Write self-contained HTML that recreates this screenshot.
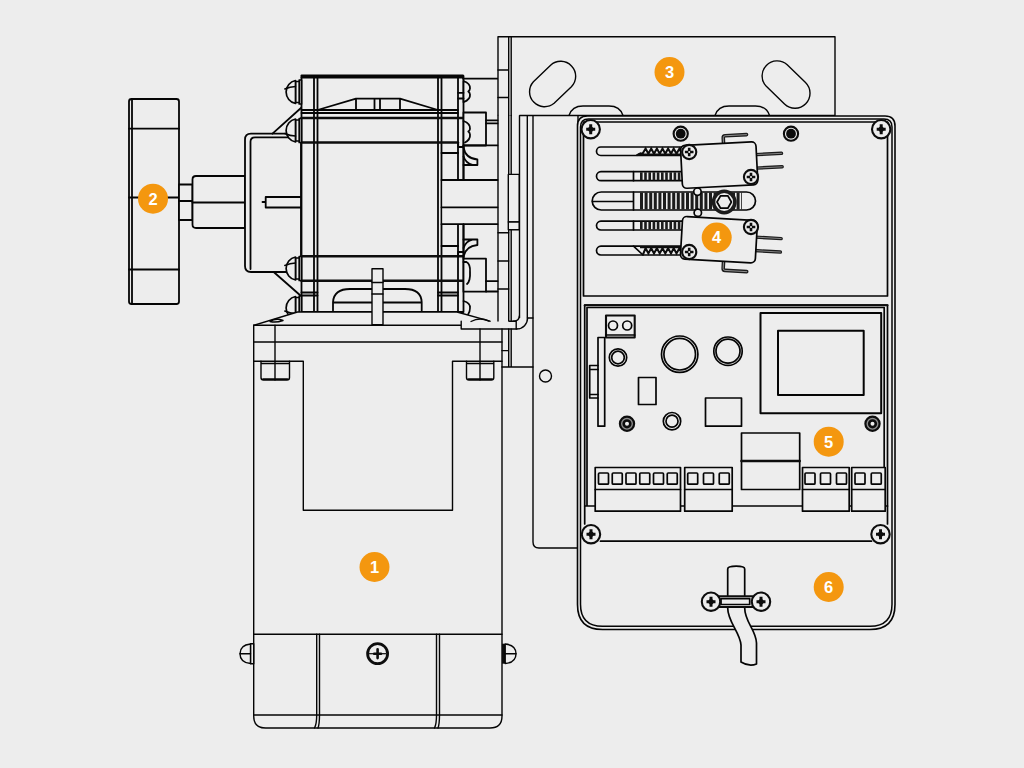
<!DOCTYPE html>
<html><head><meta charset="utf-8"><title>Diagram</title>
<style>
html,body{margin:0;padding:0;background:#ededed;}
body{width:1024px;height:768px;overflow:hidden;}
svg{display:block;}
.l{fill:none;stroke:#050505;stroke-width:1.4;stroke-linecap:round;stroke-linejoin:round;}
.t{fill:none;stroke:#0d0d0d;stroke-width:2.6;stroke-linecap:round;stroke-linejoin:round;}
.f{fill:#ededed;stroke:#050505;stroke-width:1.4;stroke-linejoin:round;}
.ft{fill:#ededed;stroke:#0d0d0d;stroke-width:2.1;stroke-linejoin:round;}
#gear .l,#gear .f,#wheel .l,#wheel .f{stroke-width:1.8;}
#box .l,#box .f{stroke-width:1.7;}
.k{fill:#0d0d0d;stroke:none;}
.b{fill:#f4970f;}
.n{font-family:"Liberation Sans",Arial,sans-serif;font-weight:bold;font-size:16.5px;fill:#fff;text-anchor:middle;}
</style></head><body>
<svg width="1024" height="768" viewBox="0 0 1024 768">
<rect width="1024" height="768" fill="#ededed"/>
<defs>
<g id="scr"><circle r="9.2" class="ft"/><path d="M-4.5,0H4.5M0,-5V5" stroke="#0d0d0d" stroke-width="3" fill="none"/><circle r="2.6" class="k"/></g>
<g id="scs"><circle r="7.1" class="ft"/><path d="M-4.3,0H4.3M0,-4.3V4.3" stroke="#0d0d0d" stroke-width="2.6" fill="none"/><circle r="1" fill="#ededed"/></g>
<g id="hole"><circle r="7.1" class="ft"/><circle r="4.9" class="k"/></g>
<g id="boltL"><path d="M15.2,0H17.5V24H15.2Z" class="f" style="stroke-width:1.7"/><path d="M11.5,1.500H15.200V22.500H11.5Z" class="f" style="stroke-width:1.7"/><path d="M11.5,0.500A11.500,11.700 0 0 0 11.500,23.500Z" class="f" style="stroke-width:1.7"/><path d="M0.800,9Q6,6.600 11.5,6.400" class="l" style="stroke-width:1.5"/></g>
<g id="boltM"><path d="M15.2,0H17.5V24H15.2Z" class="f" style="stroke-width:1.7"/><path d="M11.5,1.5H15.2V22.5H11.5Z" class="f" style="stroke-width:1.7"/><path d="M11.5,0.5A11.5,11.7 0 0 0 11.5,23.5Z" class="f" style="stroke-width:1.7"/><path d="M0.8,15Q6,17.400 11.5,17.600" class="l" style="stroke-width:1.5"/></g>
</defs>
<g id="wheel">
<rect x="129" y="99" width="50" height="205" rx="2.5" class="f"/>
<path d="M132,99.5V303.5M129,128.7H179M129,197.5H179M129,269.5H179" class="l"/>
<rect x="179" y="184.5" width="13.5" height="35.5" class="f"/>
<path d="M179,201H192.5" class="l"/>
<path d="M245,176H196Q192.5,176 192.5,179.5V224.5Q192.5,228 196,228H245Z" class="f"/>
<path d="M192.5,202.5H245" class="l"/>
<path d="M301,133.7H251Q245,133.7 245,139.7V266Q245,272 251,272H301Z" class="f"/>
<path d="M301,137.3H255Q250.5,137.3 250.5,141.800V269" class="l"/>
<path d="M301,197H265.7V207.5H301M262.5,202H265.7" class="l"/>
<path d="M272.5,133.7L301.5,107.5M273.7,272L301,296" class="l"/>
</g>

<g id="gear">
<!-- main housing -->
<rect x="301.5" y="76" width="162" height="236" class="f"/>
<path d="M301.5,75.5H463M301.5,77.5H463" class="l"/>
<path d="M314,76V312M317.5,76V312M438,76V312M441.5,76V312M458,76V312" class="l"/>
<path d="M301.5,110H458M301.5,113H458" class="l"/>
<path d="M301.5,118H463M301.5,142.5H458M301.5,256.2H463M301.5,280.7H463" class="t"/>
<path d="M301.5,292.5H317.5M301.5,295.5H317.5M438,292.5H458M438,295.5H458" class="l"/>
<path d="M317.5,110L356,98.7H400L438,110M356,98.7V110M374.5,98.7V110M380,98.7V110M400,98.7V110" class="l"/>
<!-- arch and pin bottom -->
<path d="M333,310.5V302Q334,289 350,289H405Q421,289 421.7,302V310.5M333,302.5H421.7" class="l"/>
<!-- bolts left -->
<use href="#boltL" x="284" y="80"/>
<use href="#boltM" x="284" y="118.5"/>
<use href="#boltL" x="284" y="256.5"/>
<use href="#boltM" x="284" y="296"/>
<!-- right side -->
<path d="M463,78.7H497.5" class="l"/>
<path d="M463.5,81Q470.5,83.500 470,88.500Q469.800,90.500 468.300,91.500Q469.800,92.500 470,94.500Q470.5,99.500 463.5,102.2Z" class="f"/><path d="M458,92.800H463.5M458,98.500H463.5" class="l"/>
<rect x="463.5" y="112.5" width="22.5" height="33" class="f"/>
<path d="M463.5,121Q470.5,123.5 470,129Q469.8,130.5 468.3,131.500Q469.8,132.5 470,134.5Q470.5,139.5 465,142.500" class="l"/>
<path d="M486,120.3H497.5M486,123.4H497.5" class="l"/>
<rect x="442.4" y="180" width="55" height="44.2" fill="#ededed"/><path d="M441.5,180H497.5M441.5,207.3H497.5M441.5,224.2H497.5" class="l"/>
<path d="M458.200,142.600V147H463.500M441.5,153H458.200M463.5,145.400H497.500" class="l"/>
<path d="M463.5,145.5V180" class="l"/>
<path d="M463.5,147.500Q465.500,158.500 477.400,159.500V165H463.500M463.500,156.500Q466,163.500 472.500,164.800" class="l"/>
<path d="M463.5,224.2V258.7" class="l"/>
<path d="M463.5,257Q465.5,246 477.4,245V239.500H463.5M463.5,248Q466,241 472.5,239.700" class="l"/>
<rect x="463.5" y="258.7" width="22.5" height="33" class="f"/>
<path d="M463.5,262H466.5Q470.5,264 470,272Q470.5,281 467,284" class="l"/>
<path d="M486,281.2H497.5M486,291.5H497.5" class="l"/>
<path d="M458.2,256.500V252H463.5M441.5,246H458.2" class="l"/>
</g>

<g id="bracket">
<!-- bracket 3 -->
<path d="M498,115.5V36.7H835V115.5H519.5" class="f"/>
<path d="M508.7,36.7V115.5M511.2,36.7V115.5M498,70H508.7M498,97.5H508.7" class="l"/>
<path d="M533.4,81.7A15,15 0 0 0 554.1,103.3L571.4,86.8A15,15 0 0 0 550.6,65.2Z" class="f"/>
<path d="M766.3,86.3A15,15 0 0 1 787.2,64.8L805.5,82.5A15,15 0 0 1 784.5,104Z" class="f"/>
<path d="M569,115.5Q572,106 583,106H609Q620,106 623,115.5M715,115.5Q718,106 729,106H755.5Q766.5,106 769.5,115.5" class="l"/>
<!-- vertical plate -->
<path d="M498,115.5V321M508.7,115.5V174.4M511.2,115.5V174.4M508.7,229.7V321M511.2,229.7V321" class="l"/>
<rect x="508.3" y="174.4" width="11" height="47.6" class="f"/>
<rect x="508.3" y="222" width="11" height="7.7" class="f"/>
<path d="M498,232.8H508.7M498,261H508.7M498,289H508.7" class="l"/>
<!-- plate 2 -->
<path d="M519.5,318V115.6H578V548H539Q533,548 533,542V115.6" class="f"/>
<path d="M527.3,115.6V318H533" class="l"/>
<path d="M527.5,318A10.6,10.6 0 0 1 517,328.9" class="l"/>
<path d="M519.4,316Q519,321.2 513,321.2" class="l"/>
<path d="M509.4,321.2H516.2V329" class="l"/>
<circle cx="545.5" cy="376" r="6" class="f"/>
</g>

<g id="motor">
<!-- flange -->
<path d="M463.5,301Q470.5,303 470,308Q470,312 468,314.500" class="l" style="stroke-width:1.7"/><path d="M253.7,325.3L297.5,312H457L490,321.2V325.300Z" fill="#ededed"/><path d="M253.7,325.3L297.5,312H457L490,321.2" class="l"/>
<path d="M270,321.5Q276,317.5 283,320.5Q276,323 270,321.5Z" class="l"/>
<path d="M471,321.5Q480,316.5 489,321.2" class="l"/>
<path d="M253.7,325.3H461.2M461.2,321.2V329H517" class="l"/>
<rect x="372" y="268.7" width="11" height="56" class="f"/>
<path d="M372,282.5H383M372,294H383" class="l"/>
<!-- body -->
<path d="M253.7,325.3V716Q253.7,728 265.7,728H490Q502,728 502,716V329" class="l"/>
<path d="M253.7,342H502" class="l"/>
<path d="M253.7,361.2H303.3V510.3H452.5V361.2H502" class="l"/>
<path d="M275,325.3V380M480,329V380" class="l"/>
<path d="M261,361.2V377.5Q261,380 263.5,380H287Q289.5,380 289.5,377.5V361.2M261,363.5H289.5M263,379H287.5" class="l"/>
<path d="M466.5,361.2V377.5Q466.5,380 469,380H491.3Q493.8,380 493.8,377.5V361.2M466.5,363.5H493.8M468.5,379H492" class="l"/>
<path d="M253.7,634.2H502M253.7,715H502" class="l"/>
<path d="M316.7,634.2V715Q316.7,724 314.5,728M319.5,634.2V715Q319.5,724 318,728M436.5,634.2V715Q436.5,724 434.5,728M439.5,634.2V715Q439.5,724 438,728" class="l"/>
<!-- centre screw -->
<circle cx="377.6" cy="653.7" r="10" fill="#ededed" stroke="#0d0d0d" stroke-width="2.8"/>
<path d="M369,653.7H386.200" stroke="#0d0d0d" stroke-width="1.2" fill="none"/>
<path d="M374.200,653.7H381M377.6,649.300V658.100" stroke="#0d0d0d" stroke-width="2.6" stroke-linecap="round" fill="none"/>
<!-- side bolts -->
<path d="M250.5,643.7H253.7V663.7H250.5Z" class="f"/>
<path d="M250.5,644Q240,645 240,653.7Q240,662.5 250.5,663.5Z" class="f"/><path d="M240,653.7H250.5" class="l"/>
<path d="M502,643.7H505.2V663.7H502Z" class="k"/>
<path d="M505.2,644Q516,645 516,653.7Q516,662.5 505.2,663.5Z" class="f"/><path d="M505.2,653.7H516" class="l"/>
<!-- right bracket strip -->
<path d="M508.7,329V367M511.2,329V367M501.9,350.6H508.7M501.9,367H533" class="l"/>
</g>

<g id="box">
<path d="M587.5,116H885Q895,116 895,126V604.5Q895,629.5 870,629.5H602.5Q577.5,629.5 577.5,604.5V126Q577.5,116 587.5,116Z" class="f" style="stroke-width:1.6"/>
<path d="M588.5,119H884Q892,119 892,127V604.2Q892,626.2 870,626.2H602.5Q580.5,626.2 580.5,604.2V127Q580.5,119 588.5,119Z" class="l" style="stroke-width:1.5"/>
<!-- upper panel -->
<rect x="583.5" y="122" width="304" height="174" class="l"/>
<!-- slots -->
<rect x="596.5" y="147" width="110" height="8.5" rx="4.25" class="l"/>
<rect x="596.5" y="171.7" width="110" height="9" rx="4.5" class="l"/>
<rect x="592.2" y="192" width="163.3" height="18" rx="9" class="l"/>
<rect x="596.5" y="221.2" width="110" height="8.8" rx="4.4" class="l"/>
<rect x="596.5" y="246.2" width="110" height="8.8" rx="4.4" class="l"/>
<path d="M592.5,201.5H633.5M633.5,192V210M633.5,171.7V180.7M633.5,221.2V230" class="l"/>
<path d="M640,176.2H682" stroke="#1c1c1c" stroke-width="8" stroke-dasharray="2.6 1.6" fill="none"/>
<path d="M640,225.6H682" stroke="#1c1c1c" stroke-width="8" stroke-dasharray="2.6 1.6" fill="none"/>
<path d="M640,201H742" stroke="#1c1c1c" stroke-width="17" stroke-dasharray="3 1.6" fill="none"/>
<path d="M636.5,155.3L640.5,153.3L642.5,153.8L645.6,148.6L648.4,153.8L651.2,148.6L654,153.8L656.9,148.6L659.7,153.8L662.5,148.6L665.3,153.8L668.1,148.6L671,153.8L673.7,148.6L676.500,153.8L679.4,148.6L682,153.8" fill="none" stroke="#0d0d0d" stroke-width="2" stroke-linejoin="miter"/><path d="M638,154.6H683" stroke="#0d0d0d" stroke-width="2.2" fill="none"/>
<path d="M633.5,246.2L643,255" class="l"/>
<path d="M643,254.5L645.6,248.2L648.4,253.4L651.2,248.2L654,253.4L656.9,248.2L659.7,253.4L662.5,248.2L665.3,253.4L668.1,248.2L671,253.4L673.7,248.2L676.5,253.4L679.4,248.2L682,253.4" fill="none" stroke="#0d0d0d" stroke-width="2" stroke-linejoin="miter"/><path d="M640,247.2H683" stroke="#0d0d0d" stroke-width="2.2" fill="none"/>
<!-- holes -->
<use href="#hole" x="680.7" y="133.7"/><use href="#hole" x="791" y="133.7"/>
<!-- hex nut -->
<circle cx="724.2" cy="202" r="10.7" fill="#ededed" stroke="#1c1c1c" stroke-width="3.6"/>
<path d="M731.4,202L727.800,208.2H720.600L717,202L720.600,195.800H727.800Z" class="l"/>
<!-- switch 1 -->
<g transform="rotate(-2.9 718.8 164.5)">
<path d="M724.6,144V138.1Q724.6,136.100 726.6,136.1H748" stroke="#1c1c1c" stroke-width="3.6" fill="none" stroke-linecap="round"/>
<path d="M724.6,144V138.1Q724.6,136.100 726.6,136.1H748" stroke="#9a9a9a" stroke-width="0.9" fill="none" stroke-linecap="round"/>
<path d="M756,156.5H782M756,170H782" stroke="#1c1c1c" stroke-width="3.4" fill="none" stroke-linecap="round"/>
<path d="M756,156.5H782M756,170H782" stroke="#9a9a9a" stroke-width="0.8" fill="none" stroke-linecap="round"/>
<circle cx="696.1" cy="190.6" r="3.7" class="f"/>
<rect x="681.400" y="143.600" width="75.5" height="43" rx="4.5" class="f"/>
</g>
<use href="#scs" x="689.200" y="152"/><use href="#scs" x="751" y="177"/>
<!-- switch 2 -->
<g transform="rotate(3.3 718.9 239.7)">
<path d="M724.8,261V268Q724.8,270 726.8,270H748.5" stroke="#1c1c1c" stroke-width="3.6" fill="none" stroke-linecap="round"/>
<path d="M724.8,261V268Q724.8,270 726.8,270H748.5" stroke="#9a9a9a" stroke-width="0.9" fill="none" stroke-linecap="round"/>
<path d="M755,235H781M755,248.500H781" stroke="#1c1c1c" stroke-width="3.4" fill="none" stroke-linecap="round"/>
<path d="M755,235H781M755,248.5H781" stroke="#9a9a9a" stroke-width="0.8" fill="none" stroke-linecap="round"/>
<circle cx="696.3" cy="214" r="3.7" class="f"/>
<rect x="681.4" y="218.400" width="75" height="42.6" rx="4.5" class="f"/>
</g>
<use href="#scs" x="751" y="227"/><use href="#scs" x="689.2" y="252"/>
<!-- lower cover + pcb -->
<path d="M584.7,524V305H887.5V524" class="l"/><path d="M584.7,305.300H887.5" class="t" style="stroke-width:2.1"/>
<path d="M587,506V307.5H884.2V506M584.7,506H887.5" class="l"/>
<path d="M600.5,541.2H871.5" class="l"/>
<!-- pcb parts -->
<rect x="606" y="315.500" width="28.7" height="22" class="ft"/>
<path d="M606,335H634.7" class="l"/>
<circle cx="613" cy="325.500" r="4.5" class="l"/><circle cx="627.200" cy="325.5" r="4.5" class="l"/>
<rect x="598" y="337.5" width="6.7" height="88.7" class="f"/>
<path d="M598,365.5H589.7V398H598M589.7,369.500H598M589.7,394.500H598" class="l"/>
<circle cx="618" cy="357.500" r="8.700" class="l"/><circle cx="618" cy="357.5" r="6.300" class="l"/>
<circle cx="679.700" cy="354.200" r="18.200" class="l"/><circle cx="679.7" cy="354.2" r="15.800" class="l"/>
<circle cx="728" cy="351.200" r="14.200" class="l"/><circle cx="728" cy="351.2" r="12" class="l"/>
<rect x="638.500" y="377.5" width="17.500" height="27" class="l"/>
<rect x="705.500" y="398" width="36" height="28.200" class="l"/>
<circle cx="672" cy="421.200" r="8.700" class="l"/><circle cx="672" cy="421.2" r="6" class="l"/>
<g id="pscr"><circle cx="627" cy="423.800" r="7.100" fill="#8c8c8c" stroke="#0d0d0d" stroke-width="2.200"/><circle cx="627" cy="423.8" r="3.300" fill="#ededed" stroke="#0d0d0d" stroke-width="2.600"/></g>
<use href="#pscr" x="245.5" y="0"/>
<rect x="760.5" y="313" width="120.700" height="100.200" class="l" style="stroke-width:2"/>
<rect x="778" y="330.700" width="85.700" height="64.300" class="l" style="stroke-width:2"/>
<rect x="741.5" y="433" width="58.200" height="56.500" class="f"/>
<path d="M741.5,461H799.7" class="t"/>
<!-- terminal blocks -->
<rect x="595.200" y="467.500" width="85.300" height="43.700" class="f"/><path d="M595.2,489.500H680.500" class="l"/>
<rect x="684.700" y="467.5" width="47.500" height="43.700" class="f"/><path d="M684.7,489.5H732.200" class="l"/>
<rect x="802.500" y="467.5" width="46.700" height="43.700" class="f"/><path d="M802.5,489.5H849.200" class="l"/>
<rect x="851.700" y="467.5" width="33.500" height="43.700" class="f"/><path d="M851.7,489.5H885.200" class="l"/>
<g class="l">
<rect x="598.5" y="473" width="10" height="11.200" rx="1"/><rect x="612.250" y="473" width="10" height="11.2" rx="1"/><rect x="626" y="473" width="10" height="11.2" rx="1"/><rect x="639.750" y="473" width="10" height="11.2" rx="1"/><rect x="653.500" y="473" width="10" height="11.2" rx="1"/><rect x="667.250" y="473" width="10" height="11.2" rx="1"/>
<rect x="687.700" y="473" width="10" height="11.2" rx="1"/><rect x="703.500" y="473" width="10" height="11.2" rx="1"/><rect x="719.250" y="473" width="10" height="11.2" rx="1"/>
<rect x="805" y="473" width="10" height="11.2" rx="1"/><rect x="820.500" y="473" width="10" height="11.2" rx="1"/><rect x="836.500" y="473" width="10" height="11.2" rx="1"/>
<rect x="855" y="473" width="10" height="11.2" rx="1"/><rect x="871.250" y="473" width="10" height="11.2" rx="1"/>
</g>
<!-- corner screws -->
<use href="#scr" x="590.700" y="129.200"/><use href="#scr" x="881.200" y="129.2"/><use href="#scr" x="591" y="534.200"/><use href="#scr" x="880.500" y="534.2"/>
<!-- cable -->
<path d="M727.700,608V569Q727.7,566.200 736.200,566.200Q744.700,566.2 744.700,569V608C744.700,622 756,630 756.500,643L756.500,664Q749,667 741,662L741,645C740,632 727.700,622 727.7,608Z" class="f"/>
<rect x="711" y="596.200" width="50" height="10.800" class="ft"/>
<rect x="721" y="598.700" width="28.700" height="5.800" class="l"/>
<use href="#scr" x="711" y="601.700"/><use href="#scr" x="761" y="601.7"/>
</g>

<g id="badges">
<circle cx="374.5" cy="567" r="15" class="b"/><text x="374.5" y="572.9" class="n">1</text>
<circle cx="153" cy="198.700" r="15" class="b"/><text x="153" y="204.6" class="n">2</text>
<circle cx="669.500" cy="72" r="15" class="b"/><text x="669.5" y="77.9" class="n">3</text>
<circle cx="716.700" cy="237.500" r="15" class="b"/><text x="716.7" y="243.4" class="n">4</text>
<circle cx="828.700" cy="441.700" r="15" class="b"/><text x="828.7" y="447.6" class="n">5</text>
<circle cx="828.700" cy="587" r="15" class="b"/><text x="828.7" y="592.9" class="n">6</text>
</g>

</svg>
</body></html>
